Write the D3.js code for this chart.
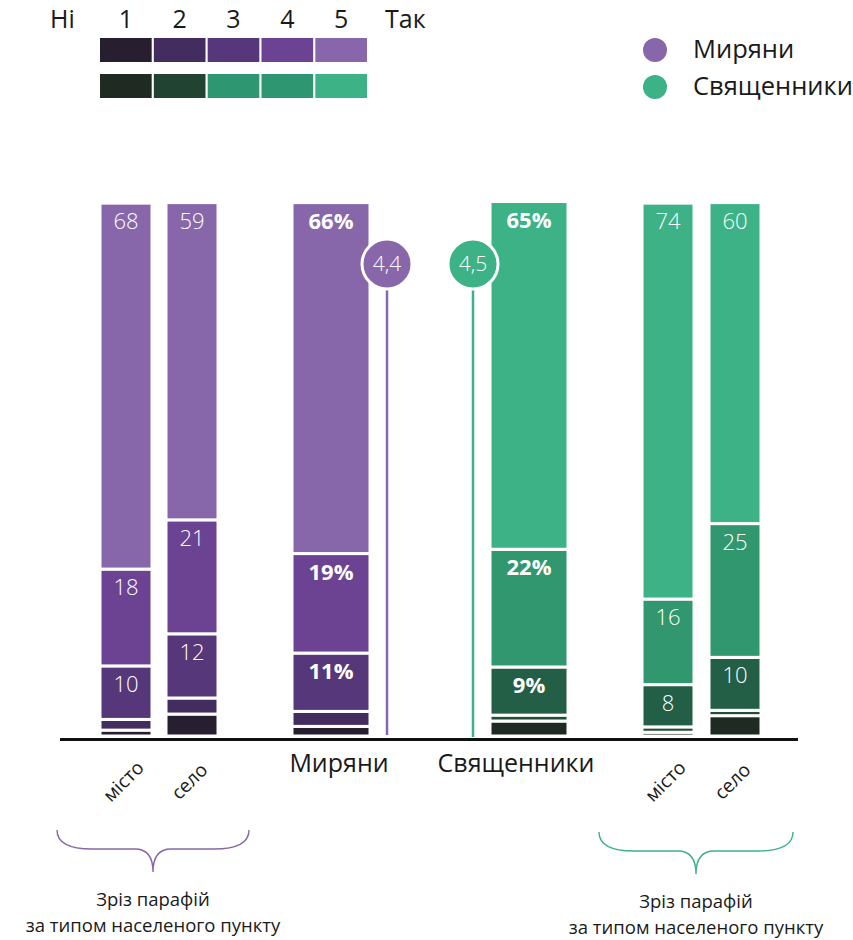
<!DOCTYPE html>
<html>
<head>
<meta charset="utf-8">
<script src="https://cdn.jsdelivr.net/npm/d3@7"></script>
<style>
  body { margin: 0; background: #fff; }
  text { font-family: "Open Sans", sans-serif; }
</style>
</head>
<body>
<div id="chart"></div>
<script>
// answers 1..5 (Ні ... Так), share of respondents in %
var keys = ["1", "2", "3", "4", "5"];
var columns = ["laityCity", "laityVillage", "laity", "clergy", "clergyCity", "clergyVillage"];

var laityCity     = [1.1, 2.0, 10.0, 18.1, 68.4];
var laityVillage  = [4.1, 3.0, 12.0, 21.3, 59.3];
var laity         = [1.8, 2.8, 10.9, 18.6, 65.6];
var clergy        = [2.8, 1.1, 9.0, 22.0, 65.0];
var clergyCity    = [0.7, 1.0, 7.9, 16.0, 74.0];
var clergyVillage = [3.8, 1.0, 9.9, 25.0, 60.0];

var means = [4.4, 4.5];
var seriesNames = ["Миряни", "Священники"];
var subLabels = ["місто", "село"];
var captionLines = ["Зріз парафій", "за типом населеного пункту"];

var purple = ["#271f2f", "#432c5f", "#55377a", "#6c4393", "#8767aa"];
var green = ["#1f2a22", "#234d3a", "#235f47", "#31976f", "#3db287"];
var greenLegend = ["#1f2a22", "#214332", "#2e9670", "#2e9670", "#3db287"];

var svgWidth = 853;
var svgHeight = 940;

var svg = d3.select("#chart")
  .append("svg")
  .attr("width", svgWidth)
  .attr("height", svgHeight);

// layout of columns
var colLeft = d3.scaleOrdinal().domain(columns).range([100, 166, 292, 490, 642, 709]);
var colWidth = d3.scaleOrdinal().domain(columns).range([52, 52, 78, 78, 52, 52]);
var colGroup = d3.scaleOrdinal().domain(columns).range([0, 0, 0, 1, 1, 1]);
var isMain = function(c) { return c == "laity" || c == "clergy"; };

var y = d3.scaleLinear().domain([0, 100]).range([736, 201]);

var rows = [laityCity, laityVillage, laity, clergy, clergyCity, clergyVillage].map(function(arr, i) {
  var r = { col: columns[i] };
  keys.forEach(function(k, j) { r[k] = arr[j]; });
  return r;
});

var stacked = d3.stack().keys(keys)(rows);

var layers = svg.append("g").selectAll("g")
  .data(stacked)
  .enter()
  .append("g");

layers.selectAll("rect")
  .data(function(layer) { return layer.map(function(d) { return { key: layer.key, idx: layer.index, d: d }; }); })
  .enter()
  .append("rect")
  .attr("x", function(s) { return colLeft(s.d.data.col); })
  .attr("width", function(s) { return colWidth(s.d.data.col); })
  .attr("y", function(s) { return y(s.d[1]); })
  .attr("height", function(s) { return y(s.d[0]) - y(s.d[1]); })
  .attr("fill", function(s) { return (colGroup(s.d.data.col) ? green : purple)[s.idx]; })
  .attr("stroke", "#fff")
  .attr("stroke-width", 3);

// value labels on answers 3, 4, 5
layers.filter(function(l) { return l.index >= 2; })
  .selectAll("text")
  .data(function(layer) { return layer; })
  .enter()
  .append("text")
  .attr("x", function(d) { return colLeft(d.data.col) + colWidth(d.data.col) / 2; })
  .attr("y", function(d) { return y(d[1]) + 26; })
  .attr("text-anchor", "middle")
  .attr("fill", "#fff")
  .attr("font-size", "22px")
  .attr("font-weight", function(d) { return isMain(d.data.col) ? 700 : 300; })
  .text(function(d) {
    var v = Math.round(d[1] - d[0]);
    return isMain(d.data.col) ? v + "%" : v;
  });

// baseline
svg.append("line")
  .attr("x1", 60).attr("x2", 798)
  .attr("y1", 739.5).attr("y2", 739.5)
  .attr("stroke", "#111")
  .attr("stroke-width", 3);

// mean circles with stems
var meanX = [colLeft("laity") + colWidth("laity") + 17, colLeft("clergy") - 17];
var meanY = 264;
var fmt = function(v) { return d3.format(".1f")(v).replace(".", ","); };

var meanG = svg.append("g").selectAll("g")
  .data(means)
  .enter()
  .append("g");

meanG.append("line")
  .attr("x1", function(d, i) { return meanX[i]; })
  .attr("x2", function(d, i) { return meanX[i]; })
  .attr("y1", meanY + 25)
  .attr("y2", function(d, i) { return i ? 737 : 735; })
  .attr("stroke", function(d, i) { return i ? green[4] : purple[4]; })
  .attr("stroke-width", 2.5);

meanG.append("circle")
  .attr("cx", function(d, i) { return meanX[i]; })
  .attr("cy", meanY)
  .attr("r", 25)
  .attr("fill", function(d, i) { return i ? green[4] : purple[4]; })
  .attr("stroke", "#fff")
  .attr("stroke-width", 3);

meanG.append("text")
  .attr("x", function(d, i) { return meanX[i]; })
  .attr("y", meanY + 7)
  .attr("text-anchor", "middle")
  .attr("fill", "#fff")
  .attr("font-size", "21px")
  .attr("font-weight", 300)
  .text(function(d) { return fmt(d); });

// bottom category labels
var mainLabelX = [339, 516];
svg.append("g").selectAll("text")
  .data(seriesNames)
  .enter()
  .append("text")
  .attr("x", function(d, i) { return mainLabelX[i]; })
  .attr("y", 772)
  .attr("text-anchor", "middle")
  .attr("font-size", "25px")
  .attr("font-weight", 500)
  .attr("fill", "#1a1a1a")
  .text(function(d) { return d; });

// rotated sub labels (місто / село)
var subCols = ["laityCity", "laityVillage", "clergyCity", "clergyVillage"];
svg.append("g").selectAll("text")
  .data(subCols)
  .enter()
  .append("text")
  .attr("transform", function(c) {
    return "translate(" + (colLeft(c) + colWidth(c) / 2 + 2) + ",786) rotate(-45)";
  })
  .attr("text-anchor", "middle")
  .attr("font-size", "19px")
  .attr("fill", "#1a1a1a")
  .text(function(c, i) { return subLabels[i % 2]; });

// braces + captions
var braces = [
  { x0: 57, x1: 249, top: 830, color: purple[4] },
  { x0: 599, x1: 793, top: 832, color: green[4] }
];
function bracePath(b) {
  var xc = (b.x0 + b.x1) / 2, yh = b.top + 19, tip = b.top + 42;
  return "M" + b.x0 + "," + b.top +
    " Q" + b.x0 + "," + yh + " " + (b.x0 + 35) + "," + yh +
    " L" + (xc - 18) + "," + yh +
    " Q" + xc + "," + yh + " " + xc + "," + tip +
    " Q" + xc + "," + yh + " " + (xc + 18) + "," + yh +
    " L" + (b.x1 - 35) + "," + yh +
    " Q" + b.x1 + "," + yh + " " + b.x1 + "," + b.top;
}
svg.append("g").selectAll("path")
  .data(braces)
  .enter()
  .append("path")
  .attr("d", bracePath)
  .attr("fill", "none")
  .attr("stroke", function(b) { return b.color; })
  .attr("stroke-width", 1.4);

braces.forEach(function(b) {
  var xc = (b.x0 + b.x1) / 2;
  svg.append("g").selectAll("text")
    .data(captionLines)
    .enter()
    .append("text")
    .attr("x", xc)
    .attr("y", function(d, i) { return b.top + 76 + i * 25.5; })
    .attr("text-anchor", "middle")
    .attr("font-size", "18.5px")
    .attr("fill", "#1a1a1a")
    .text(function(d) { return d; });
});

// scale legend (Ні 1..5 Так)
var lx = d3.scaleBand().domain(keys).range([100, 367]).paddingInner(0.04);
var legend = svg.append("g");

legend.selectAll("text.num")
  .data(keys)
  .enter()
  .append("text")
  .attr("class", "num")
  .attr("x", function(k) { return lx(k) + lx.bandwidth() / 2; })
  .attr("y", 28)
  .attr("text-anchor", "middle")
  .attr("font-size", "25px")
  .attr("fill", "#1a1a1a")
  .text(function(k) { return k; });

legend.append("text").attr("x", 50).attr("y", 28).attr("font-size", "25px").attr("fill", "#1a1a1a").text("Ні");
legend.append("text").attr("x", 385).attr("y", 28).attr("font-size", "25px").attr("fill", "#1a1a1a").text("Так");

[purple, greenLegend].forEach(function(pal, r) {
  legend.selectAll("rect.r" + r)
    .data(keys)
    .enter()
    .append("rect")
    .attr("class", "r" + r)
    .attr("x", function(k) { return lx(k); })
    .attr("y", 38 + r * 36)
    .attr("width", lx.bandwidth())
    .attr("height", 24)
    .attr("fill", function(k, i) { return pal[i]; });
});

// series legend
var sl = svg.append("g").selectAll("g")
  .data(seriesNames)
  .enter()
  .append("g")
  .attr("transform", function(d, i) { return "translate(655," + (50 + i * 37) + ")"; });

sl.append("circle")
  .attr("r", 12)
  .attr("fill", function(d, i) { return i ? green[4] : purple[4]; });

sl.append("text")
  .attr("x", 38)
  .attr("y", 8)
  .attr("font-size", "25.5px")
  .attr("fill", "#1a1a1a")
  .text(function(d) { return d; });
</script>
</body>
</html>
